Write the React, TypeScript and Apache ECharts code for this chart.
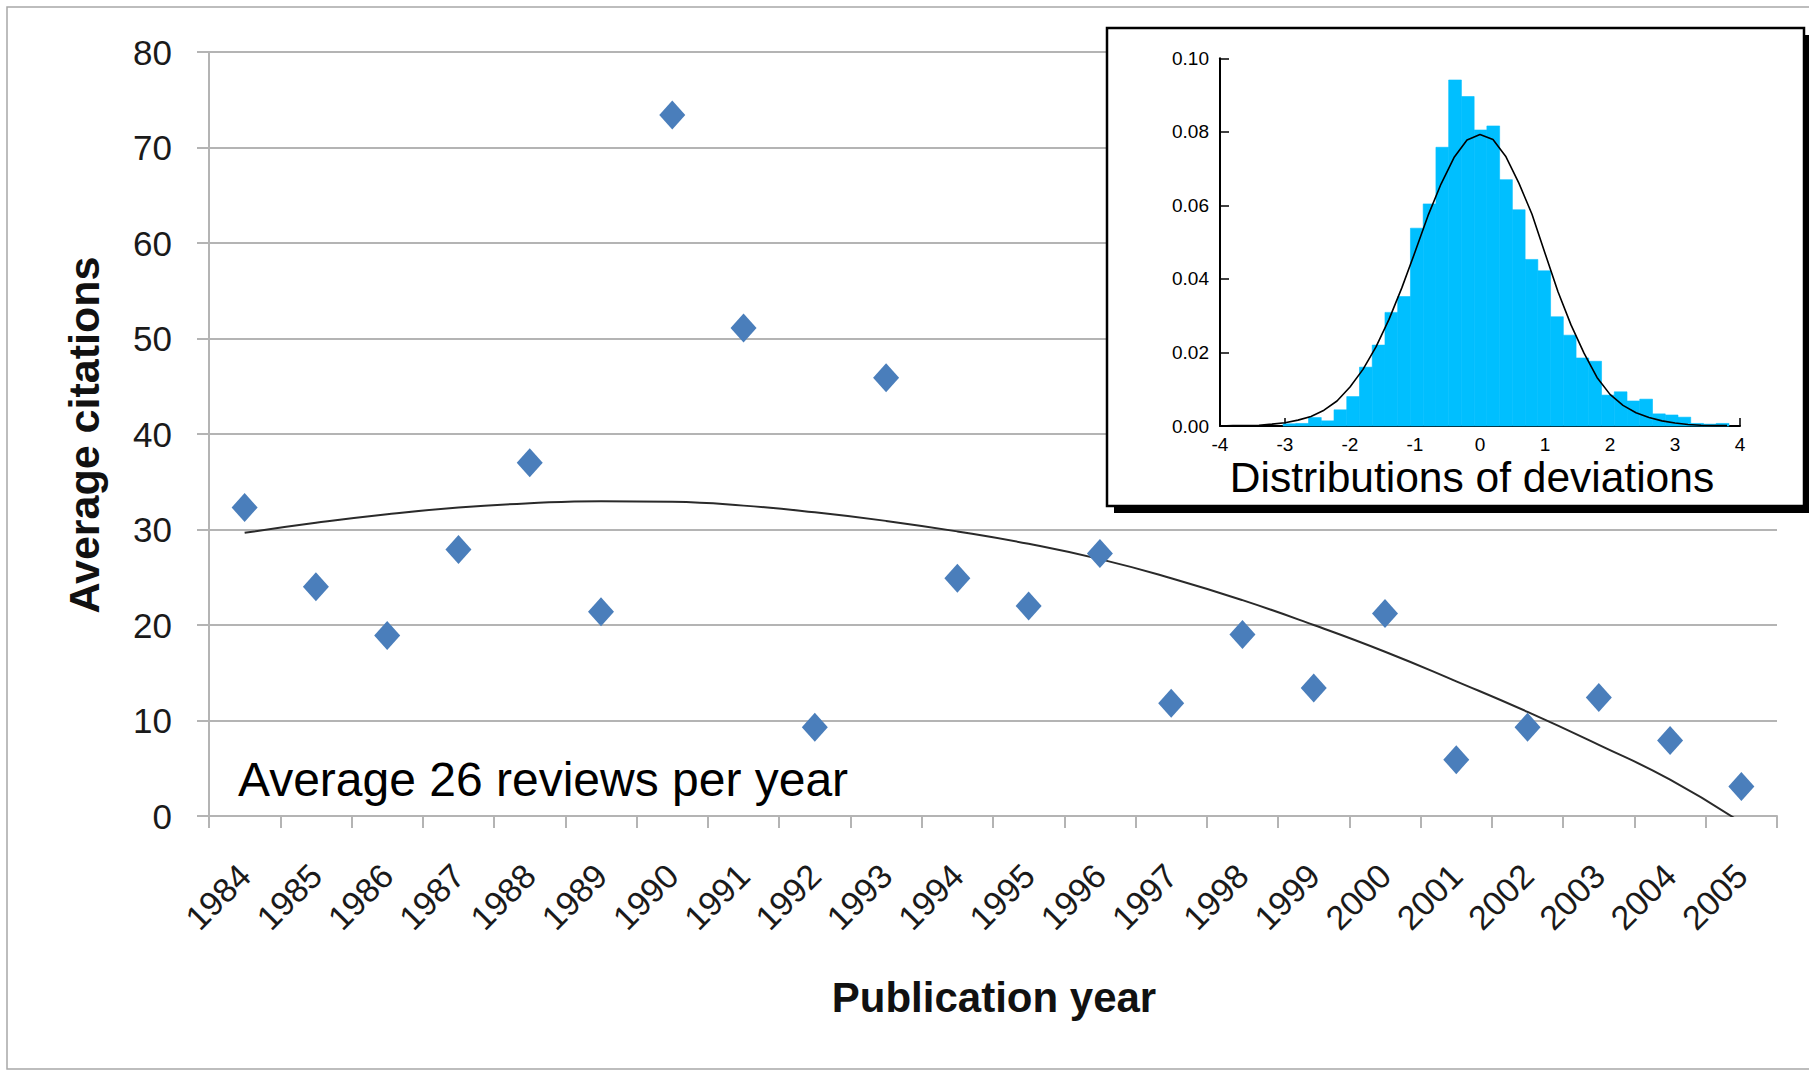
import React, { useEffect, useRef } from "react";
import * as echarts from "echarts";

// ---- Main chart data ----
const years = [
  "1984", "1985", "1986", "1987", "1988", "1989", "1990", "1991", "1992", "1993", "1994",
  "1995", "1996", "1997", "1998", "1999", "2000", "2001", "2002", "2003", "2004", "2005",
];
const avgCitations = [
  32.3, 24.0, 18.9, 27.9, 37.0, 21.4, 73.4, 51.1, 9.3, 45.9, 24.9,
  22.0, 27.5, 11.8, 19.0, 13.4, 21.2, 5.9, 9.3, 12.4, 7.9, 3.1,
];
// trendline (last point falls below 0 and is clipped)
const trendValues = [
  29.65, 30.7, 31.6, 32.3, 32.75, 32.97, 32.9, 32.5, 31.8, 30.9, 29.8,
  28.5, 26.9, 24.9, 22.6, 20.0, 17.2, 14.1, 10.9, 7.45, 3.8, -0.7,
];
const yTicks = { min: 0, max: 80, interval: 10 };

// ---- Inset histogram data ----
const histBinStart = -3.03;
const histBinWidth = 0.196;
const histDensity = [
  0.0006, 0.0007, 0.0023, 0.0014, 0.0044, 0.008, 0.016, 0.022, 0.0309, 0.0352,
  0.0538, 0.0604, 0.0758, 0.0941, 0.0896, 0.0805, 0.0816, 0.067, 0.0588, 0.0453,
  0.0422, 0.0297, 0.0247, 0.0185, 0.0176, 0.0084, 0.0093, 0.0068, 0.0073, 0.0033,
  0.003, 0.0024, 0.0007, 0.0005, 0.0007,
];
const curveX = [
  -4.0, -3.8, -3.6, -3.4, -3.2, -3.0, -2.8, -2.6, -2.4, -2.2, -2.0, -1.8, -1.6, -1.4,
  -1.2, -1.0, -0.8, -0.6, -0.4, -0.2, 0.0, 0.2, 0.4, 0.6, 0.8, 1.0, 1.2, 1.4, 1.6,
  1.8, 2.0, 2.2, 2.4, 2.6, 2.8, 3.0, 3.2, 3.4, 3.6, 3.8,
];
const curveY = [
  0.0, 0.0001, 0.0001, 0.0002, 0.0005, 0.0009, 0.0016, 0.0026, 0.0043, 0.0068, 0.0106,
  0.0154, 0.0215, 0.029, 0.0377, 0.0473, 0.0572, 0.0658, 0.073, 0.0778, 0.0793, 0.0779,
  0.0732, 0.066, 0.0576, 0.047, 0.0365, 0.0275, 0.0198, 0.0132, 0.0086, 0.0056, 0.0036,
  0.0023, 0.0014, 0.0008, 0.0004, 0.0002, 0.0001, 0.0001,
];
const insetX = { min: -4, max: 4, interval: 1 };
const insetY = { min: 0, max: 0.1, interval: 0.02 };

const FONT = "'Liberation Sans', Arial, Helvetica, sans-serif";

export default function App() {
  const ref = useRef<HTMLDivElement>(null);

  useEffect(() => {
    document.body.style.margin = "0";
    if (!ref.current) return;
    const chart = echarts.init(ref.current, undefined, { renderer: "svg" });

    const histData = histDensity.map((d, k) => [
      histBinStart + k * histBinWidth,
      histBinStart + (k + 1) * histBinWidth,
      d,
    ]);
    const curveData = curveX.map((x, k) => [x, curveY[k]]);

    const option: any = {
      animation: false,
      backgroundColor: "#ffffff",
      grid: [
        { left: 209, top: 52, width: 1568, height: 764 },
        { left: 1220, top: 58.3, width: 520, height: 367.7 },
      ],
      xAxis: [
        {
          type: "category",
          gridIndex: 0,
          data: years,
          boundaryGap: true,
          axisLine: { show: true, lineStyle: { color: "#b4b4b4", width: 2 } },
          axisTick: { show: true, length: 12, lineStyle: { color: "#b4b4b4", width: 2 } },
          axisLabel: {
            interval: 0,
            rotate: 45,
            margin: 54,
            fontSize: 34,
            fontFamily: FONT,
            color: "#1a1a1a",
          },
          splitLine: { show: false },
        },
        {
          type: "value",
          gridIndex: 1,
          min: insetX.min,
          max: insetX.max,
          interval: insetX.interval,
          z: 5,
          axisLine: { show: true, onZero: false, lineStyle: { color: "#000", width: 2 } },
          axisTick: { show: true, inside: true, length: 8, lineStyle: { color: "#000", width: 1.5 } },
          axisLabel: { margin: 9, fontSize: 19, fontFamily: FONT, color: "#000" },
          splitLine: { show: false },
        },
      ],
      yAxis: [
        {
          type: "value",
          gridIndex: 0,
          min: yTicks.min,
          max: yTicks.max,
          interval: yTicks.interval,
          axisLine: { show: true, lineStyle: { color: "#b4b4b4", width: 2 } },
          axisTick: { show: true, length: 12, lineStyle: { color: "#b4b4b4", width: 2 } },
          axisLabel: { margin: 37, fontSize: 35, fontFamily: FONT, color: "#1a1a1a" },
          splitLine: { show: true, lineStyle: { color: "#b4b4b4", width: 2 } },
        },
        {
          type: "value",
          gridIndex: 1,
          min: insetY.min,
          max: insetY.max,
          interval: insetY.interval,
          z: 5,
          axisLine: { show: true, onZero: false, lineStyle: { color: "#000", width: 2 } },
          axisTick: { show: true, inside: true, length: 9, lineStyle: { color: "#000", width: 1.5 } },
          axisLabel: {
            margin: 11,
            fontSize: 19,
            fontFamily: FONT,
            color: "#000",
            formatter: (v: number) => v.toFixed(2),
          },
          splitLine: { show: false },
        },
      ],
      series: [
        {
          type: "line",
          name: "trend",
          xAxisIndex: 0,
          yAxisIndex: 0,
          data: trendValues,
          smooth: true,
          showSymbol: false,
          clip: true,
          lineStyle: { color: "#2a2a2a", width: 2 },
          z: 2,
        },
        {
          type: "scatter",
          name: "Average citations",
          xAxisIndex: 0,
          yAxisIndex: 0,
          data: avgCitations,
          symbol: "diamond",
          symbolSize: [26, 29],
          itemStyle: { color: "#4a7ebb", opacity: 1 },
          z: 3,
        },
        {
          type: "custom",
          name: "histogram",
          xAxisIndex: 1,
          yAxisIndex: 1,
          data: histData,
          encode: { x: [0, 1], y: 2 },
          z: 6,
          renderItem: (params: any, api: any) => {
            const p0 = api.coord([api.value(0), api.value(2)]);
            const p1 = api.coord([api.value(1), 0]);
            return {
              type: "rect",
              shape: { x: p0[0], y: p0[1], width: p1[0] - p0[0], height: p1[1] - p0[1] },
              style: { fill: "#00bfff", stroke: "#00bfff", lineWidth: 0.6 },
            };
          },
        },
        {
          type: "line",
          name: "normal",
          xAxisIndex: 1,
          yAxisIndex: 1,
          data: curveData,
          showSymbol: false,
          smooth: false,
          lineStyle: { color: "#000", width: 1.6 },
          z: 7,
        },
      ],
      graphic: [
        {
          type: "rect",
          z: 0,
          silent: true,
          shape: { x: 7, y: 7, width: 1812, height: 1062 },
          style: { fill: "none", stroke: "#a8a8a8", lineWidth: 1.5 },
        },
        {
          type: "rect",
          z: 1,
          silent: true,
          shape: { x: 1114, y: 35, width: 697, height: 478 },
          style: { fill: "#000" },
        },
        {
          type: "rect",
          z: 1,
          silent: true,
          shape: { x: 1107, y: 28, width: 697, height: 478 },
          style: { fill: "#fff", stroke: "#000", lineWidth: 2.5 },
        },
        {
          type: "text",
          z: 10,
          x: 1472,
          y: 477,
          style: {
            text: "Distributions of deviations",
            fontSize: 42.5,
            fontFamily: FONT,
            fill: "#000",
            align: "center",
            verticalAlign: "middle",
          },
        },
        {
          type: "text",
          z: 10,
          x: 238,
          y: 779,
          style: {
            text: "Average 26 reviews per year",
            fontSize: 48,
            fontFamily: FONT,
            fill: "#000",
            align: "left",
            verticalAlign: "middle",
          },
        },
        {
          type: "text",
          z: 10,
          x: 84,
          y: 435,
          rotation: Math.PI / 2,
          style: {
            text: "Average citations",
            fontSize: 43,
            fontWeight: "bold",
            fontFamily: FONT,
            fill: "#111",
            align: "center",
            verticalAlign: "middle",
          },
        },
        {
          type: "text",
          z: 10,
          x: 994,
          y: 997,
          style: {
            text: "Publication year",
            fontSize: 42,
            fontWeight: "bold",
            fontFamily: FONT,
            fill: "#111",
            align: "center",
            verticalAlign: "middle",
          },
        },
      ],
    };

    chart.setOption(option);
    return () => {
      chart.dispose();
    };
  }, []);

  return <div ref={ref} style={{ width: 1809, height: 1071 }} />;
}
